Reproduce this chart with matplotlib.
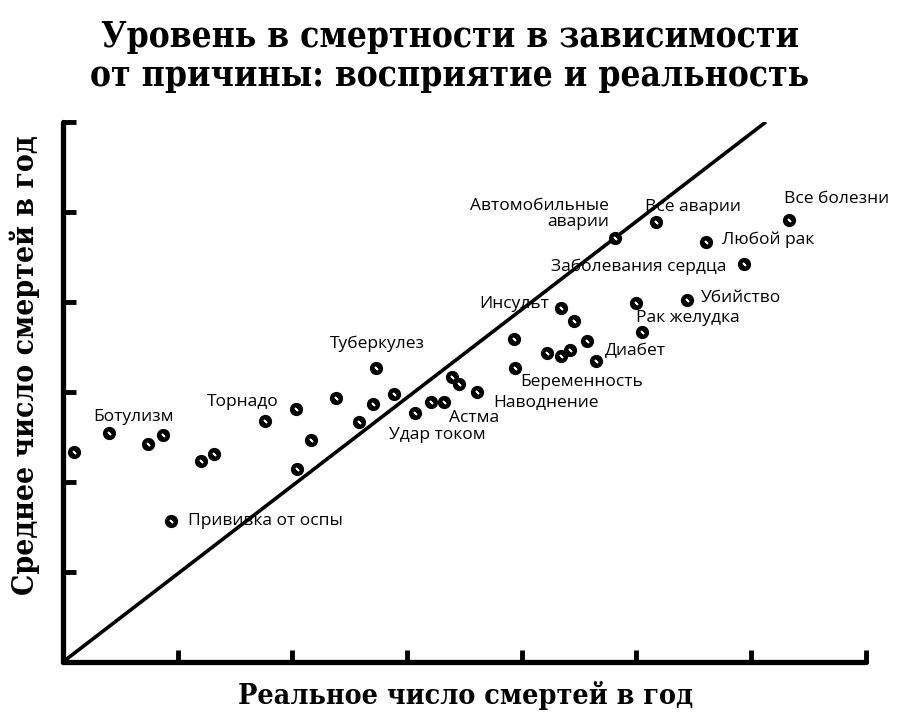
import numpy as np
import matplotlib
matplotlib.use("Agg")
import matplotlib.pyplot as plt

# real deaths per year (x, log-like scale units) vs perceived deaths (y)
causes = ["", "Ботулизм", "", "", "", "", "Прививка от оспы", "Торнадо", "", "", "",
          "Туберкулез", "", "", "", "", "Удар током", "", "Астма", "", "", "Наводнение",
          "", "Беременность", "", "", "", "", "Диабет", "Инсульт", "", "",
          "Рак желудка", "Убийство", "Автомобильные\nаварии", "Все аварии",
          "Любой рак", "Заболевания сердца", "Все болезни"]
real = [0.10, 0.40, 0.74, 0.87, 1.20, 1.32, 0.94, 1.76, 2.03, 2.16, 2.04,
        2.73, 2.38, 2.70, 2.89, 2.58, 3.07, 3.21, 3.32, 3.39, 3.45, 3.61,
        3.93, 3.94, 4.22, 4.34, 4.42, 4.57, 4.65, 4.34, 4.46, 5.00,
        5.05, 5.44, 4.81, 5.17, 5.61, 5.94, 6.33]
perceived = [2.33, 2.54, 2.42, 2.52, 2.23, 2.31, 1.56, 2.68, 2.81, 2.46, 2.14,
             3.26, 2.93, 2.87, 2.98, 2.66, 2.76, 2.89, 2.89, 3.17, 3.09, 3.00,
             3.59, 3.27, 3.43, 3.40, 3.46, 3.56, 3.34, 3.93, 3.79, 3.99,
             3.67, 4.02, 4.71, 4.89, 4.67, 4.42, 4.91]

# label offsets in pixels and alignment, one per labelled cause
label_pos = {
    "Ботулизм": (25, 16, "center"),
    "Прививка от оспы": (17, 0, "left"),
    "Торнадо": (-22, 19, "center"),
    "Туберкулез": (1, 25, "center"),
    "Удар током": (22, -22, "center"),
    "Астма": (5, -16, "left"),
    "Наводнение": (16, -10, "left"),
    "Беременность": (5, -14, "left"),
    "Диабет": (9, 10, "left"),
    "Инсульт": (-12, 4, "right"),
    "Рак желудка": (-6, 14, "left"),
    "Убийство": (14, 2, "left"),
    "Заболевания сердца": (-18, -3, "right"),
    "Автомобильные\nаварии": (-6, 24, "right"),
    "Все аварии": (-11, 15, "left"),
    "Любой рак": (16, 2, "left"),
    "Все болезни": (-5, 21, "left"),
}

line_x = [0, 6.13]
line_y = [0, 6.0]

fig = plt.figure(figsize=(9, 7.21), dpi=100)
ax = fig.add_axes([0.070, 0.082, 0.892, 0.749])

ax.plot(line_x, line_y, color="black", lw=2.6, solid_capstyle="butt", zorder=2)
ax.plot(real, perceived, "o", color="black", ms=8.5, zorder=3, clip_on=False)
ax.plot(real, perceived, marker=(2, 2, 45), ls="none", color="white",
        ms=3, mew=1.0, zorder=4, clip_on=False)

lab_font = ["Open Sans", "DejaVu Sans"]
for name, x, y in zip(causes, real, perceived):
    if not name:
        continue
    dx, dy, ha = label_pos[name]
    ax.annotate(name, (x, y), xytext=(dx, dy), textcoords="offset pixels",
                ha=ha, va="center", ma=ha, fontsize=12.5, family=lab_font,
                linespacing=1.05, zorder=5)

ax.set_xlim(0, 7)
ax.set_ylim(0, 6)
ax.set_xticks(np.arange(1, 8))
ax.set_yticks(np.arange(1, 7))
ax.tick_params(direction="in", length=9, width=3.5, labelbottom=False, labelleft=False)
for side in ["top", "right"]:
    ax.spines[side].set_visible(False)
for side in ["left", "bottom"]:
    ax.spines[side].set_linewidth(3.8)
    ax.spines[side].set_capstyle("round")

head = dict(family="DejaVu Serif", weight="bold", fontstretch="condensed")
fig.text(0.5, 0.922, "Уровень в смертности в зависимости\nот причины: восприятие и реальность",
         ha="center", va="center", fontsize=25.3, linespacing=1.18, **head)
fig.text(0.517, 0.036, "Реальное число смертей в год", ha="center", va="center",
         fontsize=20.5, **head)
fig.text(0.028, 0.494, "Среднее число смертей в год", ha="center", va="center",
         rotation=90, fontsize=21.5, **head)

fig.savefig("out.png", dpi=100)
